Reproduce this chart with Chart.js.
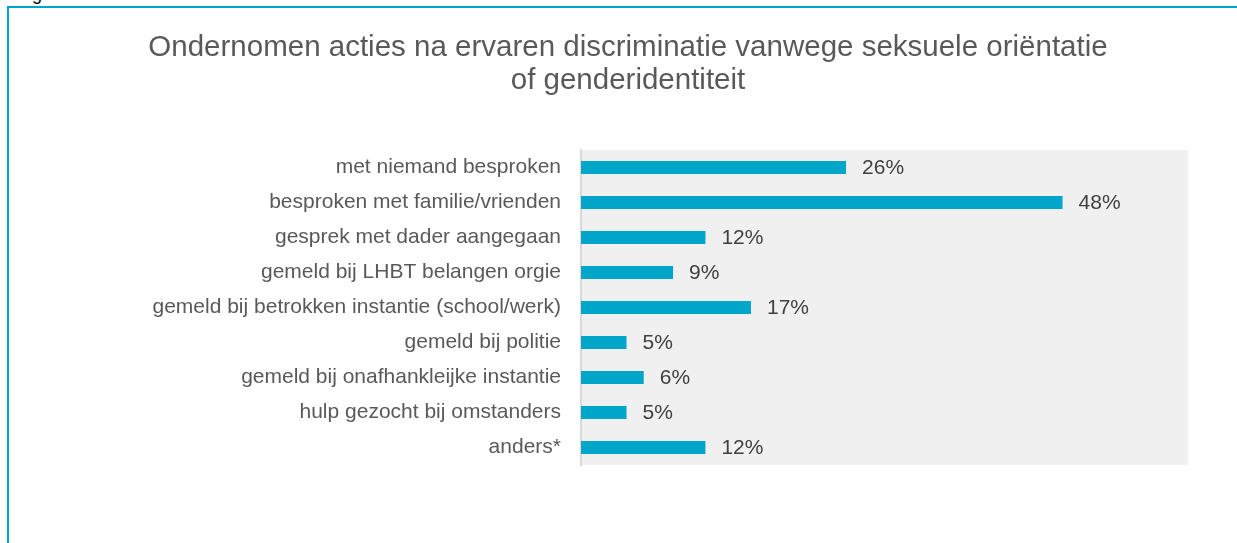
<!DOCTYPE html>
<html>
<head>
<meta charset="utf-8">
<script src="https://cdn.jsdelivr.net/npm/chart.js@4.4.1/dist/chart.umd.min.js"></script>
<style>
  html, body { margin: 0; padding: 0; background: #ffffff; }
  #wrap { position: relative; width: 1237px; height: 543px; overflow: hidden; }
  #frame { position: absolute; left: 7px; top: 6px; width: 1240px; height: 560px;
           border-left: 2px solid #00A6C9; border-top: 2px solid #00A6C9; }
  #cut { position: absolute; left: 32px; top: -15px; font: 18px 'Liberation Sans', Arial, sans-serif;
         color: #000; line-height: 18px; }
  canvas { position: absolute; left: 0; top: 0; }
</style>
</head>
<body>
<div id="wrap">
  <div id="cut">g</div>
  <div id="frame"></div>
  <canvas id="c" width="1237" height="543"></canvas>
</div>
<script>
const titleLines = [
  "Ondernomen acties na ervaren discriminatie vanwege seksuele oriëntatie",
  "of genderidentiteit"
];
const categories = [
  "met niemand besproken",
  "besproken met familie/vrienden",
  "gesprek met dader aangegaan",
  "gemeld bij LHBT belangen orgie",
  "gemeld bij betrokken instantie (school/werk)",
  "gemeld bij politie",
  "gemeld bij onafhankleijke instantie",
  "hulp gezocht bij omstanders",
  "anders*"
];
const values = [26.2, 47.6, 12.3, 9.1, 16.8, 4.5, 6.2, 4.5, 12.3];
const axisMin = 0;
const axisMax = 60;

const FONT = "'Liberation Sans', Arial, sans-serif";

const plotBg = {
  id: 'plotBg',
  beforeDraw(chart) {
    const { ctx, chartArea: a } = chart;
    ctx.save();
    ctx.fillStyle = '#F0F0F0';
    ctx.fillRect(a.left, a.top, a.right - a.left, a.bottom - a.top);
    ctx.restore();
  }
};

const titlePlugin = {
  id: 'customTitle',
  afterDraw(chart) {
    const ctx = chart.ctx;
    ctx.save();
    ctx.fillStyle = '#595959';
    ctx.font = '29.5px ' + FONT;
    ctx.textAlign = 'center';
    ctx.textBaseline = 'alphabetic';
    const baselines = [56, 89];
    titleLines.forEach((t, i) => ctx.fillText(t, 628, baselines[i]));
    ctx.restore();
  }
};

const valueLabels = {
  id: 'valueLabels',
  afterDatasetsDraw(chart) {
    const ctx = chart.ctx;
    const meta = chart.getDatasetMeta(0);
    ctx.save();
    ctx.fillStyle = '#404040';
    ctx.font = '21px ' + FONT;
    ctx.textAlign = 'left';
    ctx.textBaseline = 'middle';
    meta.data.forEach((bar, i) => {
      const v = chart.data.datasets[0].data[i];
      ctx.fillText(Math.round(v) + '%', bar.x + 16, bar.y + 1);
    });
    ctx.restore();
  }
};

new Chart(document.getElementById('c'), {
  type: 'bar',
  data: {
    labels: categories,
    datasets: [{
      data: values,
      backgroundColor: '#00A6C9',
      borderWidth: 0,
      categoryPercentage: 1.0,
      barPercentage: 0.37
    }]
  },
  options: {
    indexAxis: 'y',
    responsive: false,
    animation: false,
    devicePixelRatio: 1,
    layout: { padding: { left: 0, right: 49, top: 150, bottom: 78 } },
    plugins: {
      legend: { display: false },
      title: { display: false },
      tooltip: { enabled: false }
    },
    scales: {
      x: {
        display: false,
        min: axisMin,
        max: axisMax
      },
      y: {
        grid: { display: false, drawTicks: false },
        border: { display: true, color: '#D9D9D9', width: 2 },
        ticks: {
          color: '#595959',
          font: { family: FONT, size: 21 },
          padding: 20
        },
        afterFit(scale) { scale.width = 581; }
      }
    }
  },
  plugins: [plotBg, valueLabels, titlePlugin]
});
</script>
</body>
</html>
